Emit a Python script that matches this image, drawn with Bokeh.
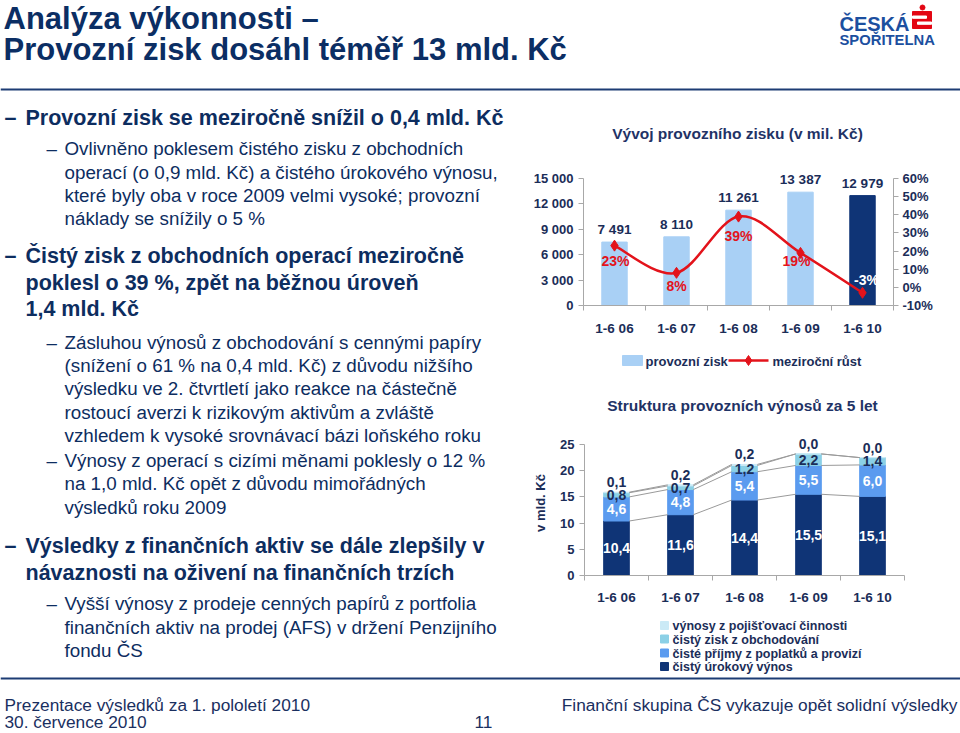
import numpy as np
from bokeh.plotting import figure
from bokeh.layouts import column, row
from bokeh.models import Range1d, LinearAxis, FixedTicker
from bokeh.core.properties import value
from bokeh.embed import file_html
from bokeh.resources import INLINE

# ---------------- data ----------------
periods = ["1-6 06", "1-6 07", "1-6 08", "1-6 09", "1-6 10"]
operating_profit = [7491, 8110, 11261, 13387, 12979]          # mil. Kč
yoy_growth = [23, 8, 39, 19, -3]                              # %
net_interest = [10.4, 11.6, 14.4, 15.5, 15.1]                 # mld. Kč
fees = [4.6, 4.8, 5.4, 5.5, 6.0]
trading = [0.8, 0.7, 1.2, 2.2, 1.4]
insurance = [0.1, 0.2, 0.2, 0.0, 0.0]
profit_ticks = [0, 3000, 6000, 9000, 12000, 15000]
growth_ticks = [-10, 0, 10, 20, 30, 40, 50, 60]
struct_ticks = [0, 5, 10, 15, 20, 25]
struct_names = ["čistý úrokový výnos", "čisté příjmy z poplatků a provizí",
                "čistý zisk z obchodování", "výnosy z pojišťovací činnosti"]

title_lines = ["Analýza výkonnosti –", "Provozní zisk dosáhl téměř 13 mld. Kč"]
bullets = [
    (1, ["Provozní zisk se meziročně snížil o 0,4 mld. Kč"]),
    (2, ["Ovlivněno poklesem čistého zisku z obchodních",
         "operací (o 0,9 mld. Kč) a čistého úrokového výnosu,",
         "které byly oba v roce 2009 velmi vysoké; provozní",
         "náklady se snížily o 5 %"]),
    (1, ["Čistý zisk z obchodních operací meziročně",
         "poklesl o 39 %, zpět na běžnou úroveň",
         "1,4 mld. Kč"]),
    (2, ["Zásluhou výnosů z obchodování s cennými papíry",
         "(snížení o 61 % na 0,4 mld. Kč) z důvodu nižšího",
         "výsledku ve 2. čtvrtletí jako reakce na částečně",
         "rostoucí averzi k rizikovým aktivům a zvláště",
         "vzhledem k vysoké srovnávací bázi loňského roku"]),
    (2, ["Výnosy z operací s cizími měnami poklesly o 12 %",
         "na 1,0 mld. Kč opět z důvodu mimořádných",
         "výsledků roku 2009"]),
    (1, ["Výsledky z finančních aktiv se dále zlepšily v",
         "návaznosti na oživení na finančních trzích"]),
    (2, ["Vyšší výnosy z prodeje cenných papírů z portfolia",
         "finančních aktiv na prodej (AFS) v držení Penzijního",
         "fondu ČS"]),
]
footer_left = ["Prezentace výsledků za 1. pololetí 2010", "30. července 2010"]
footer_page = "11"
footer_right = "Finanční skupina ČS vykazuje opět solidní výsledky"
chart1_title = "Vývoj provozního zisku (v mil. Kč)"
chart2_title = "Struktura provozních výnosů za 5 let"
legend1 = ["provozní zisk", "meziroční růst"]

# ---------------- style ----------------
SANS = "Liberation Sans"
NAVY = "#0d2d5f"
TNAVY = "#0b2e64"
CTXT = "#1b2d58"
RED = "#e3131b"
LIGHT = "#a9d0f5"
DARK = "#0f3476"
MID = "#5b9bef"
TEAL = "#8bd0e6"
PALE = "#cbeaf6"
GREY = "#a8a8a8"
struct_colors = [DARK, MID, TEAL, PALE]


def canvas(w, h):
    p = figure(width=w, height=h, x_range=Range1d(0, w), y_range=Range1d(h, 0),
               x_axis_type=None, y_axis_type=None, min_border=0,
               toolbar_location=None, output_backend="svg")
    p.outline_line_color = None
    p.frame_align = False
    return p


def txt(p, x, y, s, size, color=NAVY, bold=False, align="left",
        baseline="alphabetic", font=SANS):
    # 'alphabetic' positions are given as baselines; draw them centred instead
    if baseline == "alphabetic":
        y = y - 0.35 * float(size.replace("px", ""))
        baseline = "middle"
    p.text(x=[x], y=[y], text=[s], text_font=value(font), text_font_size=size,
           text_font_style="bold" if bold else "normal", text_color=color,
           text_align=align, text_baseline=baseline)


# ---------------- header ----------------
H_HEAD = 95
head = canvas(960, H_HEAD)
txt(head, 3, 17.5, title_lines[0], "31px", TNAVY, bold=True, baseline="middle")
txt(head, 3, 48.5, title_lines[1], "31px", TNAVY, bold=True, baseline="middle")
txt(head, 839, 30, "ČESKÁ", "20px", "#1c4f9f", bold=True)
txt(head, 839, 45, "SPOŘITELNA", "14.8px", "#1c4f9f", bold=True)
head.quad(left=[912], right=[931], top=[11], bottom=[28], color="#e30613")
head.scatter(x=[922], y=[7], marker="circle", size=5, color="#e30613")
head.quad(left=[912, 917], right=[926, 931], top=[15.5, 21.5], bottom=[17.8, 23.8],
          color="white")
head.segment(x0=[0], y0=[89], x1=[960], y1=[89], line_width=2, line_color="#1d3c74")

# ---------------- left text ----------------
Y0 = H_HEAD
H_MID = 676 - H_HEAD
left = canvas(525, H_MID)
first_baselines = [125, 155, 263.5, 348.3, 466.7, 553.3, 610]
gap = {1: 26.5, 2: 23.35}
for (lvl, lines), yb in zip(bullets, first_baselines):
    if lvl == 1:
        size, dash_x, text_x, bold = "21.5px", 4, 25, True
    else:
        size, dash_x, text_x, bold = "18.8px", 46, 64, False
    txt(left, dash_x, yb - Y0, "–", size, NAVY, bold=bold)
    for k, line in enumerate(lines):
        txt(left, text_x, yb - Y0 + k * gap[lvl], line, size, NAVY, bold=bold)

# ---------------- chart 1 ----------------
xs = np.arange(len(periods)) + 0.5
W_R = 435

t1 = canvas(W_R, 65)
txt(t1, 212, 38, chart1_title, "15.5px", "#1f3366", bold=True, align="center",
    baseline="middle")

c1_h, c1_bottom = 185, 40
frame_h = c1_h - c1_bottom
px_per = 127.0
c1 = figure(width=W_R, height=c1_h, x_range=Range1d(0, len(periods)),
            y_range=Range1d(0, profit_ticks[-1] * frame_h / px_per),
            min_border_left=58, min_border_right=67, min_border_top=0,
            min_border_bottom=c1_bottom, toolbar_location=None, output_backend="svg")
c1.frame_align = False
c1.outline_line_color = None
c1.xgrid.visible = False
c1.ygrid.visible = False
span = growth_ticks[-1] - growth_ticks[0]
c1.extra_y_ranges = {"pct": Range1d(growth_ticks[0],
                                    growth_ticks[0] + span * frame_h / px_per)}


def style_axis(ax, standoff=5):
    ax.axis_line_color = GREY
    ax.major_tick_line_color = GREY
    ax.major_tick_out = 5
    ax.major_tick_in = 0
    ax.minor_tick_line_color = None
    ax.major_label_text_font = SANS
    ax.major_label_text_font_style = "bold"
    ax.major_label_text_font_size = "13px"
    ax.major_label_text_color = CTXT
    ax.major_label_standoff = standoff


yax = c1.yaxis[0]
yax.ticker = FixedTicker(ticks=profit_ticks)
yax.major_label_overrides = {t: f"{t:,}".replace(",", " ") for t in profit_ticks}
yax.bounds = (profit_ticks[0], profit_ticks[-1])
style_axis(yax)

rax = LinearAxis(y_range_name="pct", ticker=FixedTicker(ticks=growth_ticks))
rax.major_label_overrides = {t: f"{t}%" for t in growth_ticks}
rax.bounds = (growth_ticks[0], growth_ticks[-1])
style_axis(rax, 4)
c1.add_layout(rax, "right")


def style_xaxis(ax, standoff):
    ax.ticker = FixedTicker(ticks=list(xs), minor_ticks=list(range(len(periods) + 1)))
    ax.major_label_overrides = {float(x): s for x, s in zip(xs, periods)}
    style_axis(ax, standoff)
    ax.major_tick_line_color = None
    ax.minor_tick_line_color = GREY
    ax.minor_tick_out = 5
    ax.minor_tick_in = 0
    ax.major_label_text_font_size = "13.5px"


style_xaxis(c1.xaxis[0], 10)

bar_colors = [LIGHT] * (len(periods) - 1) + [DARK]
c1.vbar(x=xs, top=operating_profit, width=0.41, color=bar_colors)
c1.text(x=xs, y=operating_profit,
        text=[f"{v:,}".replace(",", " ") for v in operating_profit],
        text_font=value(SANS), text_font_style="bold", text_font_size="13.5px",
        text_color=CTXT, text_align="center", text_baseline="bottom", y_offset=-5)

# smooth (Catmull-Rom) line through growth points
n = len(xs)
g = np.array(yoy_growth, dtype=float)
bx0, by0, bx1, by1, cx0, cy0, cx1, cy1 = ([] for _ in range(8))
for i in range(n - 1):
    a, b = max(i - 1, 0), min(i + 2, n - 1)
    bx0.append(xs[i]); by0.append(g[i]); bx1.append(xs[i + 1]); by1.append(g[i + 1])
    cx0.append(xs[i] + (xs[i + 1] - xs[a]) / 6); cy0.append(g[i] + (g[i + 1] - g[a]) / 6)
    cx1.append(xs[i + 1] - (xs[b] - xs[i]) / 6); cy1.append(g[i + 1] - (g[b] - g[i]) / 6)
c1.bezier(x0=bx0, y0=by0, x1=bx1, y1=by1, cx0=cx0, cy0=cy0, cx1=cx1, cy1=cy1,
          line_color=RED, line_width=2.5, y_range_name="pct")
c1.scatter(x=xs, y=yoy_growth, marker="diamond", size=11, color=RED, y_range_name="pct")
pct_label_dy = [15, 13, 19, 8, -13]
pct_label_dx = [1, 0, 0, -4, 4]
pct_label_colors = [RED, RED, RED, RED, "white"]
for x, v, dy, dx, col in zip(xs, yoy_growth, pct_label_dy, pct_label_dx, pct_label_colors):
    c1.text(x=[x], y=[v], text=[f"{v}%"], text_font=value(SANS), text_font_style="bold",
            text_font_size="14px", text_color=col, text_align="center",
            text_baseline="middle", y_offset=dy, x_offset=dx, y_range_name="pct")

l1 = canvas(W_R, 40)
l1.quad(left=[97], right=[117], top=[10], bottom=[20], color=LIGHT)
txt(l1, 120, 15.5, legend1[0], "13px", CTXT, bold=True, baseline="middle")
l1.segment(x0=[203], y0=[15], x1=[243], y1=[15], line_color=RED, line_width=2.5)
l1.scatter(x=[223], y=[15], marker="diamond", size=10, color=RED)
txt(l1, 247, 15.5, legend1[1], "13px", CTXT, bold=True, baseline="middle")

# ---------------- chart 2 ----------------
t2 = canvas(W_R, 45)
txt(t2, 217, 20, chart2_title, "15.5px", "#1f3366", bold=True, align="center",
    baseline="middle")

c2_h, c2_bottom = 180, 35
frame2 = c2_h - c2_bottom
c2 = figure(width=W_R, height=c2_h, x_range=Range1d(0, len(periods)),
            y_range=Range1d(0, struct_ticks[-1] * frame2 / 131.0),
            min_border_left=59, min_border_right=56, min_border_top=0,
            min_border_bottom=c2_bottom, toolbar_location=None, output_backend="svg")
c2.frame_align = False
c2.outline_line_color = None
c2.xgrid.visible = False
c2.ygrid.visible = False
y2 = c2.yaxis[0]
y2.ticker = FixedTicker(ticks=struct_ticks)
y2.bounds = (struct_ticks[0], struct_ticks[-1])
style_axis(y2)
y2.axis_label = "v mld. Kč"
y2.axis_label_text_font = SANS
y2.axis_label_text_font_style = "bold"
y2.axis_label_text_font_size = "13px"
y2.axis_label_text_color = CTXT
y2.axis_label_standoff = 9
style_xaxis(c2.xaxis[0], 9)

series = [net_interest, fees, trading, insurance]
src = {"x": xs}
for k, s in enumerate(series):
    src[f"s{k}"] = s
c2.vbar_stack([f"s{k}" for k in range(4)], x="x", width=0.4, color=struct_colors,
              source=src)

cum = np.cumsum(np.array(series), axis=0)
bw = 0.4
for k in range(4):
    c2.segment(x0=list(xs[:-1] + bw / 2), y0=list(cum[k][:-1]),
               x1=list(xs[1:] - bw / 2), y1=list(cum[k][1:]),
               line_color="#9a9a9a", line_width=1)

fmt = lambda v: f"{v:.1f}".replace(".", ",")
label_colors = ["white", "white", CTXT, CTXT]
for k in range(3):
    bottom = cum[k] - np.array(series[k])
    mids = (bottom + cum[k]) / 2
    c2.text(x=xs, y=list(mids), text=[fmt(v) for v in series[k]], text_font=value(SANS),
            text_font_style="bold", text_font_size="14px", text_color=label_colors[k],
            text_align="center", text_baseline="middle")
c2.text(x=xs, y=list(cum[3]), text=[fmt(v) for v in insurance], text_font=value(SANS),
        text_font_style="bold", text_font_size="14px", text_color=CTXT,
        text_align="center", text_baseline="bottom", y_offset=-5)

l2 = canvas(W_R, 66)
rows_y = [15, 28.5, 42.5, 56]
for yy, k in zip(rows_y, [3, 2, 1, 0]):
    l2.quad(left=[135], right=[143], top=[yy - 4], bottom=[yy + 4], color=struct_colors[k])
    txt(l2, 147, yy + 0.5, struct_names[k], "12.5px", CTXT, bold=True, baseline="middle")

# ---------------- footer ----------------
foot = canvas(960, 57)
foot.segment(x0=[0], y0=[2], x1=[960], y1=[2], line_width=2, line_color="#1d3c74")
txt(foot, 4, 34.5, footer_left[0], "17.3px", "#1a2f5f")
txt(foot, 4, 52, footer_left[1], "17.3px", "#1a2f5f")
txt(foot, 483, 52, footer_page, "17.3px", "#1a2f5f", align="center")
txt(foot, 957, 34.5, footer_right, "17.3px", "#1a2f5f", align="right")

right_col = column(t1, c1, l1, t2, c2, l2, spacing=0)
layout = column(head, row(left, right_col, spacing=0), foot, spacing=0)

page_style = """
{% block postamble %}
<style>html, body { margin: 0; padding: 0; }</style>
{% endblock %}
"""
open("out.html", "w").write(file_html(layout, INLINE, template=page_style))
